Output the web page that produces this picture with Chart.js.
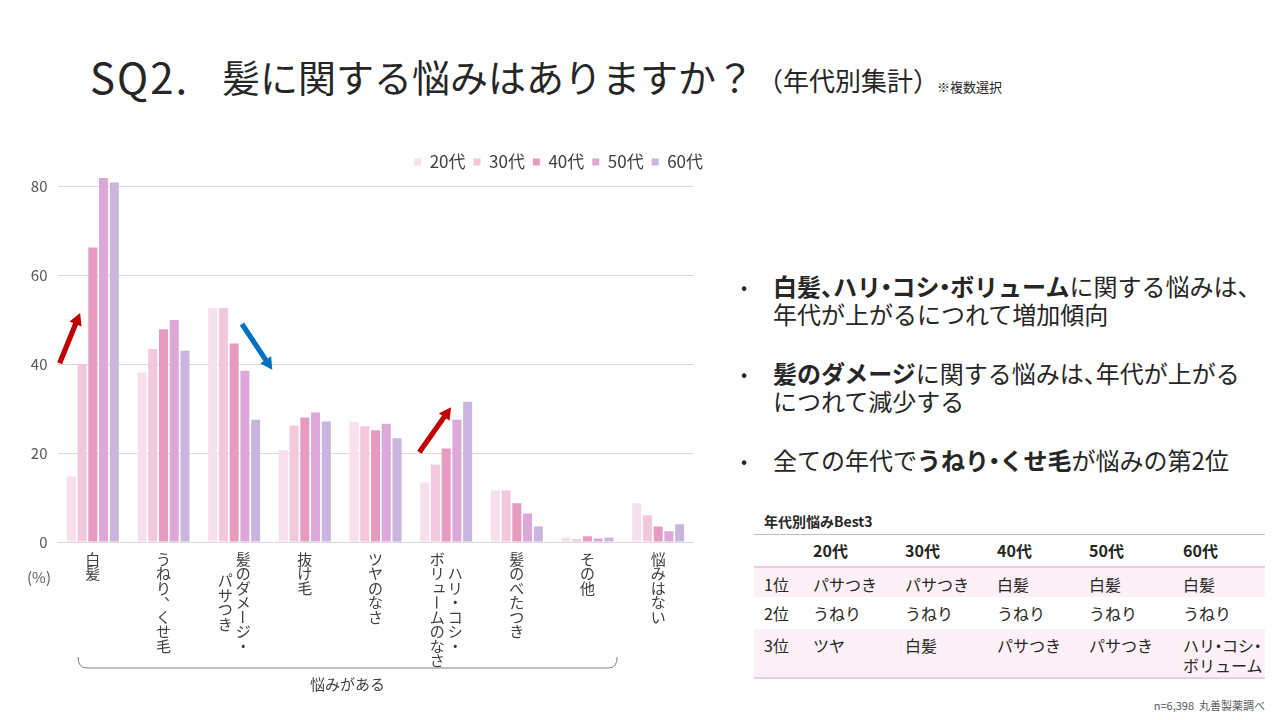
<!DOCTYPE html>
<html lang="ja">
<head>
<meta charset="utf-8">
<script src="https://cdn.jsdelivr.net/npm/chart.js@4.4.1/dist/chart.umd.min.js"></script>
<style>
  html, body { margin: 0; padding: 0; background: #fff; }
  body { width: 1280px; height: 720px; position: relative; overflow: hidden;
         font-family: 'Noto Sans CJK JP', 'Noto Sans', sans-serif; color: #262626; }
  .abs { position: absolute; white-space: nowrap; }
  #chartBox { position: absolute; left: 0; top: 140px; width: 720px; height: 560px; }
  .bullet { position: absolute; left: 773px; font-size: 24px; line-height: 28px; white-space: nowrap; }
  .bullet b { font-weight: 700; }
  .dot { position: absolute; left: 741px; font-size: 18px; line-height: 28px; }
  .c { margin-right: -0.5em; }
  .m { margin: 0 -0.28em; }
  table { position: absolute; left: 754px; top: 534px; border-collapse: collapse; font-size: 16px;
          line-height: 20px; table-layout: fixed; width: 511px; }
  td, th { padding: 6px 0 0 10px; text-align: left; vertical-align: top; font-weight: 400; white-space: nowrap; }
  thead tr { border-top: 1px solid #d8b6c9; border-bottom: 2px solid #efcde0; height: 32px; }
  thead th { font-weight: 700; padding-top: 5px; }
  tbody tr.pink { background: #fdf1f7; }
  tbody tr:last-child { border-bottom: 2px solid #efcde0; }
</style>
</head>
<body>
<div class="abs" style="left:90px;top:55px;font-size:42px;line-height:42px;letter-spacing:2px;">SQ2.</div>
<div class="abs" style="left:222px;top:57px;font-size:38px;line-height:38px;">髪に関する悩みはありますか？</div>
<div class="abs" style="left:757px;top:67px;font-size:26px;line-height:26px;">（年代別集計）</div>
<div class="abs" style="left:937px;top:80px;font-size:13px;line-height:13px;">※複数選択</div>

<div id="chartBox"><canvas id="hairChart" width="720" height="560"></canvas></div>
<div class="abs" style="left:27px;top:567px;font-size:15px;line-height:20px;color:#595959;">(%)</div>

<div class="dot" style="top:272px;">•</div>
<div class="bullet" style="top:272px;"><b>白髪<span class="c">、</span>ハリ<span class="m">・</span>コシ<span class="m">・</span>ボリューム</b>に関する悩みは<span class="c">、</span><br>年代が上がるにつれて増加傾向</div>
<div class="dot" style="top:359px;">•</div>
<div class="bullet" style="top:359px;"><b>髪のダメージ</b>に関する悩みは<span class="c">、</span>年代が上がる<br>につれて減少する</div>
<div class="dot" style="top:446px;">•</div>
<div class="bullet" style="top:446px;">全ての年代で<b>うねり<span class="m">・</span>くせ毛</b>が悩みの第2位</div>

<div class="abs" style="left:764px;top:511px;font-size:14px;line-height:20px;font-weight:700;">年代別悩みBest3</div>
<table id="best3">
  <colgroup><col style="width:49px"><col style="width:92px"><col style="width:92px"><col style="width:92px"><col style="width:94px"><col style="width:92px"></colgroup>
  <thead><tr id="best3Head"></tr></thead>
  <tbody id="best3Body"></tbody>
</table>
<div class="abs" style="right:15px;top:698px;font-size:11px;line-height:14px;color:#595959;">n=6,398&nbsp;&nbsp;丸善製薬調べ</div>

<script>
// categories: each label is a list of vertical columns (right to left)
const categoryLabels = [
    ['白髪'],
    ['うねり、くせ毛'],
    ['髪のダメージ・', 'パサつき'],
    ['抜け毛'],
    ['ツヤのなさ'],
    ['ハリ・コシ・', 'ボリュームのなさ'],
    ['髪のべたつき'],
    ['その他'],
    ['悩みはない']
];
const ageGroups = ['20代', '30代', '40代', '50代', '60代'];

// % answering, per age group
const pct20s = [14.7, 38.1, 52.6, 20.6, 27.0, 13.4, 11.6, 1.0, 8.7];
const pct30s = [40.0, 43.4, 52.6, 26.2, 26.0, 17.4, 11.6, 0.6, 6.0];
const pct40s = [66.2, 47.8, 44.6, 28.0, 25.1, 21.0, 8.7, 1.3, 3.5];
const pct50s = [81.8, 49.9, 38.5, 29.1, 26.6, 27.5, 6.4, 0.8, 2.4];
const pct60s = [80.8, 43.0, 27.5, 27.1, 23.3, 31.5, 3.5, 1.0, 4.0];

const yTickValues = [0, 20, 40, 60, 80];

// trend arrows, in (category index, %) units
const arrowTails = [[-0.47, 40.2], [2.11, 49.0], [4.62, 20.2]];
const arrowTips  = [[-0.18, 51.5], [2.54, 38.7], [5.07, 30.3]];

// bracket under "悩みがある" categories, in category index units
const braceSpan = [-0.21, 7.42];
const braceLabel = '悩みがある';

// Best3 table
const rankLabels = ['1位', '2位', '3位'];
const best3 = [
    ['パサつき', 'パサつき', '白髪', '白髪', '白髪'],
    ['うねり', 'うねり', 'うねり', 'うねり', 'うねり'],
    ['ツヤ', '白髪', 'パサつき', 'パサつき', 'ハリ<span class="m">・</span>コシ<span class="m">・</span><br>ボリューム']
];

const barColors = ['#f7e0ec', '#f3c8dd', '#e89bc0', '#dea7da', '#c9b5de'];
const arrowColors = ['#c00000', '#0070c0', '#c00000'];

// table
document.getElementById('best3Head').innerHTML =
    '<th></th>' + ageGroups.map(g => '<th>' + g + '</th>').join('');
document.getElementById('best3Body').innerHTML = best3.map((row, i) =>
    '<tr class="' + (i % 2 === 0 ? 'pink' : '') + '" style="height:' + [30, 32, 49][i] + 'px">' +
    '<td>' + rankLabels[i] + '</td>' + row.map(v => '<td>' + v + '</td>').join('') + '</tr>'
).join('');

Chart.defaults.font.family = "'Noto Sans CJK JP', 'Noto Sans', sans-serif";
Chart.defaults.color = '#404040';

const smallKana = 'ッャュョァィゥェォっゃゅょぁぃぅぇぉ';

function drawVerticalChar(ctx, ch, x, y) {
    if (ch === 'ー' || ch === '－') {
        ctx.save();
        ctx.translate(x, y);
        ctx.rotate(Math.PI / 2);
        ctx.fillText(ch, 0, 0);
        ctx.restore();
    } else if (ch === '、' || ch === '。') {
        ctx.fillText(ch, x + 8, y - 8);
    } else if (smallKana.includes(ch)) {
        ctx.fillText(ch, x + 2, y - 2);
    } else {
        ctx.fillText(ch, x, y);
    }
}

// move the legend to the top-right spot used in the slide
const legendNudge = {
    id: 'legendNudge',
    afterLayout(chart) {
        const l = chart.legend;
        l.left += 17.5; l.right += 17.5;
        l.top += 5.5; l.bottom += 5.5;
    }
};

// vertical (tategaki) category labels + bracket
const tategakiLabels = {
    id: 'tategakiLabels',
    afterDraw(chart) {
        const { ctx, chartArea, scales: { x } } = chart;
        const pitch = 14.5;
        ctx.save();
        ctx.font = "15px 'Noto Sans CJK JP'";
        ctx.fillStyle = '#404040';
        ctx.textAlign = 'center';
        ctx.textBaseline = 'middle';
        categoryLabels.forEach((cols, i) => {
            const cx = x.getPixelForValue(i);
            const longest = Math.max(...cols.map(c => [...c].length));
            cols.forEach((col, k) => {
                const chars = [...col];
                const colX = cx + (cols.length - 1) * 9 - k * 18;
                const y0 = chartArea.bottom + 17 + (longest - chars.length) * pitch / 2;
                chars.forEach((ch, j) => drawVerticalChar(ctx, ch, colX, y0 + j * pitch));
            });
        });

        const bx0 = x.getPixelForValue(braceSpan[0]);
        const bx1 = x.getPixelForValue(braceSpan[1]);
        const by = chartArea.bottom + 126;
        ctx.strokeStyle = '#808080';
        ctx.lineWidth = 1;
        ctx.beginPath();
        ctx.moveTo(bx0, by - 11);
        ctx.quadraticCurveTo(bx0, by, bx0 + 9, by);
        ctx.lineTo(bx1 - 9, by);
        ctx.quadraticCurveTo(bx1, by, bx1, by - 11);
        ctx.stroke();
        ctx.fillText(braceLabel, (bx0 + bx1) / 2, chartArea.bottom + 142);
        ctx.restore();
    }
};

// block arrows showing the trend
const trendArrows = {
    id: 'trendArrows',
    afterDatasetsDraw(chart) {
        const { ctx, scales: { x, y } } = chart;
        arrowTails.forEach((tail, i) => {
            const x1 = x.getPixelForValue(tail[0]), y1 = y.getPixelForValue(tail[1]);
            const x2 = x.getPixelForValue(arrowTips[i][0]), y2 = y.getPixelForValue(arrowTips[i][1]);
            const len = Math.hypot(x2 - x1, y2 - y1);
            const head = 12;
            ctx.save();
            ctx.translate(x1, y1);
            ctx.rotate(Math.atan2(y2 - y1, x2 - x1));
            ctx.fillStyle = arrowColors[i];
            ctx.beginPath();
            ctx.moveTo(0, -2.6);
            ctx.lineTo(len - head, -2.6);
            ctx.lineTo(len - head, -6.5);
            ctx.lineTo(len, 0);
            ctx.lineTo(len - head, 6.5);
            ctx.lineTo(len - head, 2.6);
            ctx.lineTo(0, 2.6);
            ctx.closePath();
            ctx.fill();
            ctx.restore();
        });
    }
};

const seriesValues = [pct20s, pct30s, pct40s, pct50s, pct60s];

new Chart(document.getElementById('hairChart'), {
    type: 'bar',
    data: {
        labels: categoryLabels.map(c => c.join('')),
        datasets: ageGroups.map((g, i) => ({
            label: g,
            data: seriesValues[i],
            backgroundColor: barColors[i],
            categoryPercentage: 0.76,
            barPercentage: 0.84
        }))
    },
    options: {
        responsive: false,
        animation: false,
        layout: { padding: { left: 0, right: 26.5, top: 0, bottom: 158 } },
        scales: {
            x: {
                grid: { display: false, drawTicks: false },
                border: { color: '#d9d9d9' },
                ticks: { display: false }
            },
            y: {
                min: 0,
                max: 82.5,
                afterBuildTicks: s => { s.ticks = yTickValues.map(v => ({ value: v })); },
                afterFit: s => { s.width = 57.5; },
                grid: { color: '#d9d9d9', drawTicks: false },
                border: { display: false },
                ticks: { padding: 10, color: '#595959', font: { size: 15 } }
            }
        },
        plugins: {
            legend: {
                position: 'top',
                align: 'end',
                labels: { boxWidth: 7, boxHeight: 7, padding: 8, color: '#404040', font: { size: 17 } }
            },
            tooltip: { enabled: false }
        }
    },
    plugins: [legendNudge, tategakiLabels, trendArrows]
});
</script>
</body>
</html>
